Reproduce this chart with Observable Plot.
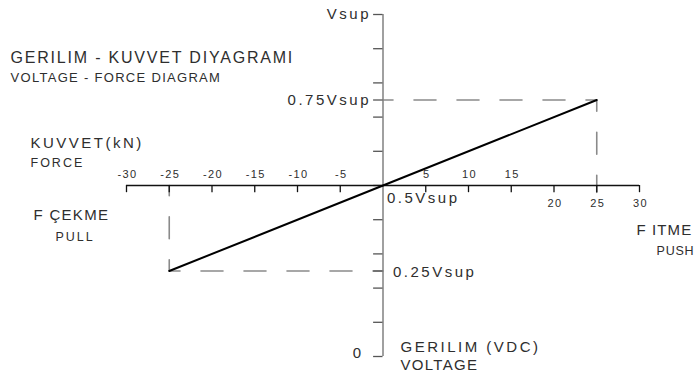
<!DOCTYPE html>
<html>
<head>
<meta charset="utf-8">
<script src="https://cdn.jsdelivr.net/npm/d3@7"></script>
<script src="https://cdn.jsdelivr.net/npm/@observablehq/plot@0.6"></script>
<style>
  html, body { margin: 0; padding: 0; background: #fff; }
  #chart svg { display: block; }
</style>
</head>
<body>
<div id="chart"></div>
<script>
// ---- data ----
const forceKN = [-25, 0, 25];
const voltageFrac = [0.25, 0.5, 0.75];
const xTickValues = [-30, -25, -20, -15, -10, -5, 5, 10, 15, 20, 25, 30];
const xLabelsAbove = [-30, -25, -20, -15, -10, -5, 5, 10, 15];
const xLabelsBelow = [20, 25, 30];
const yTickValues = [0, 0.1, 0.2, 0.25, 0.3, 0.4, 0.5, 0.6, 0.7, 0.75, 0.8, 0.9, 1];
const yLabelValues = [1, 0.75, 0.5, 0.25, 0];
const yLabelTexts = ["Vsup", "0.75Vsup", "0.5Vsup", "0.25Vsup", "0"];
const guideHighX = [0, 25, 25];
const guideHighY = [0.75, 0.75, 0.48];
const guideLowX = [0, -25, -25];
const guideLowY = [0.25, 0.25, 0.5];
const titleTR = "GERILIM - KUVVET DIYAGRAMI";
const titleEN = "VOLTAGE - FORCE DIAGRAM";
const xTitleTR = "KUVVET(kN)";
const xTitleEN = "FORCE";
const pullTR = "F ÇEKME";
const pullEN = "PULL";
const pushTR = "F ITME";
const pushEN = "PUSH";
const yTitleTR = "GERILIM (VDC)";
const yTitleEN = "VOLTAGE";

const FONT = '"Liberation Sans", Arial, sans-serif';
const TXT = "#2e2e2e";

const lineData = forceKN.map((x, i) => ({x, y: voltageFrac[i]}));
const guideHigh = guideHighX.map((x, i) => ({x, y: guideHighY[i]}));
const guideLow = guideLowX.map((x, i) => ({x, y: guideLowY[i]}));
const yLabels = yLabelValues.map((y, i) => ({y, t: yLabelTexts[i]}));

const dash = {stroke: "#8a8a8a", strokeWidth: 1.6, strokeDasharray: "22,21", strokeDashoffset: 12};

function note(text, dx, dy, size) {
  return Plot.text([text], {
    frameAnchor: "top-left", dx, dy, text: d => d,
    textAnchor: "start", lineAnchor: "middle",
    fontSize: size, fill: TXT
  });
}

const chart = Plot.plot({
  width: 699,
  height: 377,
  marginTop: 0, marginRight: 0, marginBottom: 0, marginLeft: 0,
  style: {fontFamily: FONT, background: "#fff", color: TXT},
  x: {domain: [-30, 30], range: [126, 639], axis: null},
  y: {domain: [0, 1], range: [356, 14], axis: null},
  marks: [
    Plot.line(guideHigh, {x: "x", y: "y", ...dash}),
    Plot.line(guideLow, {x: "x", y: "y", ...dash}),
    Plot.ruleX([0], {y1: 0, y2: 1, stroke: "#808080", strokeWidth: 1.5}),
    Plot.ruleY(yTickValues, {y: d => d, x1: -1.1, x2: 0, stroke: "#555", strokeWidth: 1.3}),
    Plot.ruleY([0.5], {x1: -30, x2: 30, stroke: "#111", strokeWidth: 1.5}),
    Plot.ruleX(xTickValues, {x: d => d, y1: 0.5, y2: 0.5 - 0.021, stroke: "#111", strokeWidth: 1.3}),
    Plot.line(lineData, {x: "x", y: "y", stroke: "#000", strokeWidth: 2}),
    Plot.text(xLabelsAbove, {x: d => d, y: 0.5, text: d => d < 0 ? "-" + Math.abs(d) : String(d), dy: -11, dx: 1, fontSize: 11, fill: TXT}),
    Plot.text(xLabelsBelow, {x: d => d, y: 0.5, text: d => String(d), dy: 18, dx: 1, fontSize: 11, fill: TXT}),
    Plot.text(yLabels.filter(d => d.y > 0.6), {x: 0, y: "y", text: "t", textAnchor: "end", dx: -12, fontSize: 15, fill: TXT}),
    Plot.text(yLabels.filter(d => d.y === 0.5), {x: 0, y: "y", text: "t", textAnchor: "start", dx: 4, dy: 13, fontSize: 15, fill: TXT}),
    Plot.text(yLabels.filter(d => d.y === 0.25), {x: 0, y: "y", text: "t", textAnchor: "start", dx: 10, dy: 1, fontSize: 15, fill: TXT}),
    Plot.text(yLabels.filter(d => d.y === 0), {x: 0, y: "y", text: "t", textAnchor: "end", dx: -22, dy: -3, fontSize: 15, fill: TXT}),
    note(titleTR, 10, 57, 16),
    note(titleEN, 10, 77, 13),
    note(xTitleTR, 30, 143, 15),
    note(xTitleEN, 30, 162, 12.5),
    note(pullTR, 33, 215, 15),
    note(pullEN, 55, 236, 12.5),
    note(pushTR, 636, 230, 15),
    note(pushEN, 656, 250, 12.5),
    note(yTitleTR, 400, 347, 15),
    note(yTitleEN, 400, 365, 15)
  ]
});

document.getElementById("chart").appendChild(chart);

// letter spacing like the CAD lettering
const spacingBySize = {"16": 1.8, "15": 2.5, "13": 1.3, "12.5": 2.0, "11": 1.3};
const spacingByText = {"0": 0, [pullTR]: 1.3, [yTitleEN]: 1.3, [pushTR]: 1.1, [pushEN]: 0.8};
d3.select(chart).selectAll("g[font-size]").each(function () {
  const ls = spacingBySize[this.getAttribute("font-size")];
  if (ls != null) this.style.letterSpacing = ls + "px";
});
d3.select(chart).selectAll("text").each(function () {
  const ls = spacingByText[this.textContent];
  if (ls != null) this.style.letterSpacing = ls + "px";
});
</script>
</body>
</html>
